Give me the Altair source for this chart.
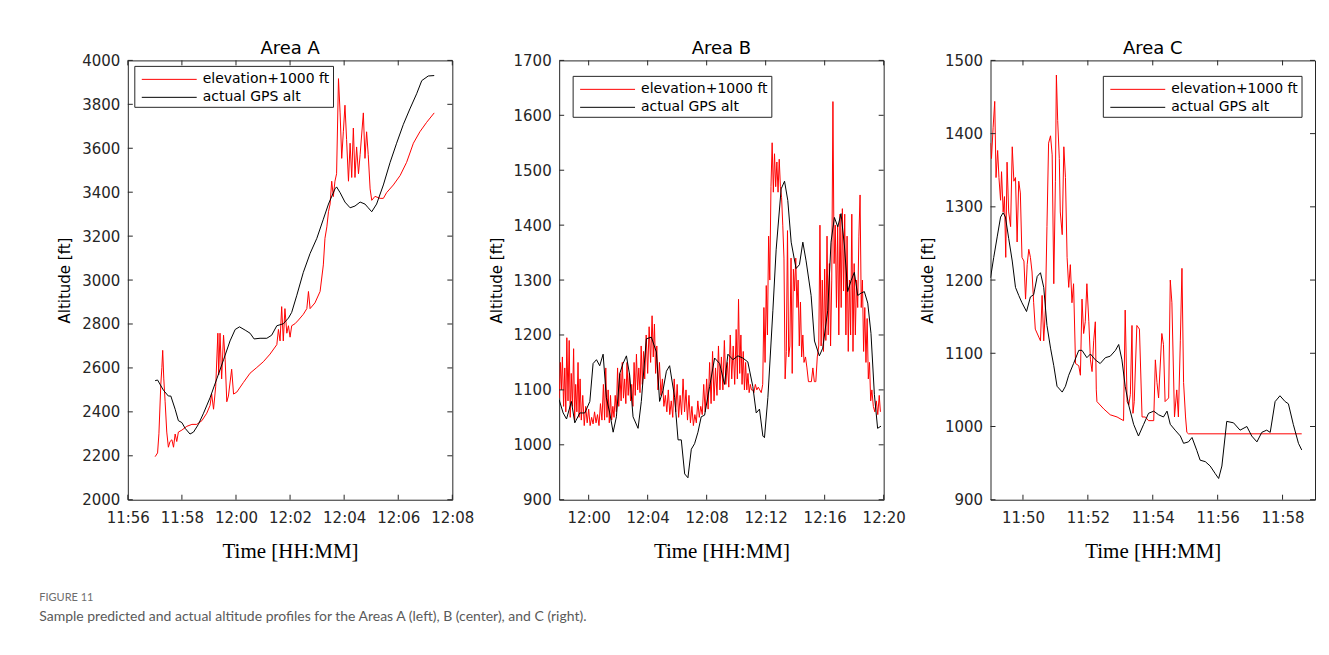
import altair as alt
import pandas as pd

FRAME = "#262626"
RED = "#ff0000"
BLACK = "#000000"
LABEL_RED = "elevation+1000 ft"
LABEL_BLACK = "actual GPS alt"

TITLES = ["Area A", "Area B", "Area C"]
# minute-of-day of each panel's time origin
START = [716, 718, 709]
X_DOMAINS = [[716, 728], [718, 740], [709, 719]]
X_TICKS = [[716, 718, 720, 722, 724, 726, 728],
           [720, 724, 728, 732, 736, 740],
           [710, 712, 714, 716, 718]]
Y_DOMAINS = [[2000, 4000], [900, 1700], [900, 1500]]
Y_TICKS = [[2000, 2200, 2400, 2600, 2800, 3000, 3200, 3400, 3600, 3800, 4000],
           [900, 1000, 1100, 1200, 1300, 1400, 1500, 1600, 1700],
           [900, 1000, 1100, 1200, 1300, 1400, 1500]]

# (minutes after panel origin, altitude ft)
A_RED = [(1.01, 2196), (1.10, 2213), (1.15, 2300), (1.22, 2524), (1.26, 2602), (1.29, 2680),
         (1.33, 2550), (1.38, 2446), (1.44, 2308), (1.50, 2239), (1.56, 2265), (1.63, 2273),
         (1.69, 2239), (1.75, 2299), (1.81, 2265), (1.87, 2308), (2.00, 2317), (2.18, 2334),
         (2.37, 2343), (2.55, 2343), (2.74, 2360), (2.92, 2394), (3.04, 2429), (3.10, 2481),
         (3.17, 2412), (3.25, 2516), (3.33, 2758), (3.36, 2568), (3.41, 2758), (3.47, 2550),
         (3.54, 2749), (3.60, 2637), (3.66, 2446), (3.72, 2472), (3.84, 2594), (3.91, 2481),
         (4.03, 2490), (4.27, 2533), (4.52, 2576), (4.77, 2602), (5.01, 2628), (5.26, 2663),
         (5.51, 2706), (5.57, 2775), (5.63, 2723), (5.69, 2879), (5.75, 2723), (5.81, 2870),
         (5.88, 2758), (5.94, 2792), (6.00, 2740), (6.06, 2792), (6.18, 2801), (6.31, 2818),
         (6.49, 2844), (6.62, 2870), (6.68, 2948), (6.74, 2870), (6.92, 2896), (7.11, 2948),
         (7.23, 3069), (7.29, 3190), (7.36, 3242), (7.42, 3311), (7.48, 3346), (7.54, 3450),
         (7.60, 3380), (7.66, 3450), (7.72, 3484), (7.79, 3917), (7.85, 3761), (7.91, 3554),
         (7.97, 3675), (8.03, 3796), (8.09, 3640), (8.16, 3450), (8.22, 3623), (8.28, 3467),
         (8.34, 3692), (8.40, 3467), (8.46, 3606), (8.53, 3484), (8.59, 3571), (8.71, 3761),
         (8.77, 3554), (8.83, 3675), (8.89, 3571), (8.96, 3415), (9.02, 3363), (9.14, 3381),
         (9.33, 3372), (9.45, 3372), (9.57, 3398), (9.82, 3433), (10.07, 3476), (10.31, 3536),
         (10.56, 3623), (10.80, 3675), (11.05, 3718), (11.33, 3761)]
A_BLACK = [(1.01, 2542), (1.10, 2545), (1.32, 2498), (1.50, 2472), (1.59, 2472), (1.75, 2412),
           (1.87, 2360), (2.00, 2351), (2.12, 2325), (2.30, 2299), (2.43, 2308), (2.61, 2343),
           (2.80, 2394), (3.04, 2464), (3.29, 2550), (3.54, 2637), (3.78, 2723), (3.97, 2775),
           (4.13, 2787), (4.34, 2772), (4.52, 2758), (4.67, 2732), (4.89, 2735), (5.14, 2735),
           (5.32, 2749), (5.51, 2792), (5.75, 2801), (5.94, 2827), (6.06, 2853), (6.25, 2931),
           (6.49, 3035), (6.74, 3121), (6.99, 3190), (7.23, 3277), (7.42, 3346), (7.66, 3415),
           (7.72, 3424), (7.85, 3398), (8.03, 3355), (8.22, 3329), (8.40, 3337), (8.59, 3355),
           (8.77, 3346), (8.89, 3329), (9.02, 3311), (9.20, 3346), (9.45, 3433), (9.70, 3536),
           (9.94, 3623), (10.19, 3709), (10.43, 3779), (10.68, 3848), (10.87, 3908),
           (11.11, 3929), (11.33, 3931)]

B_RED = [(0.00, 1085), (0.08, 1150), (0.15, 1100), (0.22, 1160), (0.30, 1070), (0.38, 1140),
         (0.45, 1060), (0.52, 1195), (0.60, 1080), (0.68, 1190), (0.75, 1050), (0.82, 1130),
         (0.90, 1070), (0.98, 1175), (1.05, 1045), (1.12, 1110), (1.20, 1060), (1.28, 1150),
         (1.35, 1050), (1.42, 1120), (1.50, 1045), (1.60, 1090), (1.70, 1035), (1.80, 1070),
         (1.90, 1040), (2.00, 1065), (2.10, 1035), (2.20, 1050), (2.30, 1038), (2.40, 1060),
         (2.50, 1040), (2.60, 1055), (2.70, 1035), (2.80, 1075), (2.90, 1045), (3.00, 1110),
         (3.08, 1045), (3.16, 1140), (3.24, 1050), (3.32, 1100), (3.40, 1040), (3.48, 1090),
         (3.56, 1045), (3.64, 1070), (3.72, 1050), (3.80, 1090), (3.88, 1060), (3.96, 1140),
         (4.04, 1070), (4.12, 1130), (4.20, 1080), (4.28, 1150), (4.36, 1085), (4.44, 1120),
         (4.52, 1075), (4.60, 1150), (4.68, 1090), (4.76, 1130), (4.84, 1080), (4.92, 1110),
         (5.00, 1070), (5.08, 1150), (5.16, 1090), (5.24, 1165), (5.32, 1100), (5.40, 1140),
         (5.48, 1095), (5.56, 1180), (5.64, 1110), (5.72, 1170), (5.80, 1120), (5.90, 1200),
         (6.00, 1130), (6.10, 1215), (6.20, 1150), (6.30, 1235), (6.38, 1160), (6.46, 1220),
         (6.54, 1130), (6.62, 1180), (6.70, 1100), (6.80, 1150), (6.90, 1090), (7.00, 1120),
         (7.10, 1070), (7.20, 1090), (7.30, 1060), (7.40, 1100), (7.50, 1055), (7.60, 1080),
         (7.70, 1050), (7.80, 1120), (7.90, 1060), (8.00, 1110), (8.10, 1050), (8.20, 1090),
         (8.30, 1055), (8.40, 1120), (8.50, 1060), (8.60, 1100), (8.70, 1045), (8.80, 1090),
         (8.90, 1040), (9.00, 1070), (9.10, 1035), (9.20, 1055), (9.30, 1040), (9.40, 1080),
         (9.50, 1050), (9.60, 1070), (9.70, 1055), (9.80, 1110), (9.90, 1060), (10.00, 1120),
         (10.10, 1065), (10.20, 1150), (10.30, 1075), (10.40, 1170), (10.50, 1080),
         (10.60, 1140), (10.70, 1090), (10.80, 1180), (10.90, 1100), (11.00, 1160),
         (11.10, 1100), (11.20, 1190), (11.30, 1110), (11.40, 1150), (11.50, 1105),
         (11.60, 1200), (11.70, 1120), (11.80, 1180), (11.90, 1110), (12.00, 1210),
         (12.08, 1120), (12.16, 1265), (12.24, 1130), (12.32, 1200), (12.40, 1110),
         (12.48, 1170), (12.56, 1100), (12.64, 1150), (12.72, 1100), (12.80, 1130),
         (12.88, 1095), (12.96, 1110), (13.04, 1100), (13.12, 1100), (13.20, 1095),
         (13.30, 1110), (13.40, 1100), (13.50, 1105), (13.60, 1100), (13.70, 1095),
         (13.80, 1110), (13.88, 1250), (13.96, 1150), (14.04, 1290), (14.12, 1200),
         (14.20, 1380), (14.28, 1300), (14.36, 1470), (14.44, 1550), (14.52, 1460),
         (14.60, 1530), (14.68, 1470), (14.76, 1515), (14.84, 1460), (14.92, 1520),
         (15.00, 1470), (15.08, 1450), (15.16, 1400), (15.24, 1340), (15.32, 1120),
         (15.40, 1170), (15.48, 1390), (15.56, 1160), (15.64, 1180), (15.72, 1340),
         (15.80, 1130), (15.88, 1320), (15.96, 1280), (16.04, 1340), (16.12, 1250),
         (16.20, 1300), (16.28, 1180), (16.36, 1260), (16.44, 1160), (16.52, 1200),
         (16.60, 1150), (16.70, 1160), (16.80, 1140), (16.90, 1115), (17.00, 1115),
         (17.10, 1115), (17.20, 1140), (17.30, 1115), (17.40, 1115), (17.50, 1160),
         (17.60, 1180), (17.68, 1400), (17.76, 1180), (17.84, 1300), (17.92, 1170),
         (18.00, 1320), (18.08, 1190), (18.16, 1380), (18.24, 1200), (18.32, 1330),
         (18.40, 1180), (18.48, 1300), (18.56, 1625), (18.64, 1330), (18.72, 1400),
         (18.80, 1250), (18.88, 1400), (18.96, 1200), (19.04, 1420), (19.12, 1250),
         (19.20, 1430), (19.28, 1280), (19.36, 1420), (19.44, 1200), (19.52, 1380),
         (19.60, 1170), (19.68, 1300), (19.76, 1200), (19.84, 1420), (19.92, 1170),
         (20.00, 1330), (20.08, 1200), (20.16, 1300), (20.24, 1250), (20.32, 1380),
         (20.40, 1455), (20.48, 1250), (20.56, 1300), (20.64, 1170), (20.72, 1250),
         (20.80, 1150), (20.88, 1230), (20.96, 1120), (21.04, 1150), (21.12, 1080),
         (21.20, 1100), (21.30, 1070), (21.40, 1060), (21.50, 1080), (21.60, 1055),
         (21.70, 1090), (21.78, 1060)]
B_BLACK = [(0.00, 1082), (0.27, 1058), (0.50, 1047), (0.83, 1079), (1.06, 1040), (1.40, 1058),
           (1.74, 1058), (2.08, 1079), (2.30, 1148), (2.53, 1155), (2.75, 1144), (2.98, 1165),
           (3.20, 1086), (3.43, 1058), (3.66, 1023), (3.88, 1051), (4.11, 1130), (4.33, 1148),
           (4.56, 1162), (4.78, 1127), (5.01, 1051), (5.35, 1030), (5.57, 1079), (5.91, 1193),
           (6.25, 1196), (6.59, 1169), (6.81, 1079), (7.04, 1099), (7.27, 1134), (7.49, 1144),
           (7.83, 1086), (8.06, 1009), (8.28, 1009), (8.51, 947), (8.73, 940), (8.96, 992),
           (9.18, 1002), (9.41, 1023), (9.63, 1051), (9.86, 1054), (10.20, 1106),
           (10.54, 1158), (10.88, 1148), (11.21, 1110), (11.44, 1165), (11.78, 1155),
           (12.12, 1162), (12.45, 1158), (12.79, 1151), (13.13, 1106), (13.36, 1058),
           (13.58, 1065), (13.81, 1016), (13.92, 1013), (14.15, 1086), (14.49, 1245),
           (14.71, 1355), (15.05, 1466), (15.28, 1480), (15.50, 1445), (15.73, 1369),
           (16.06, 1321), (16.29, 1328), (16.52, 1369), (16.74, 1335), (17.08, 1272),
           (17.31, 1189), (17.64, 1162), (17.87, 1176), (18.21, 1245), (18.43, 1369),
           (18.66, 1414), (18.89, 1397), (19.11, 1421), (19.34, 1362), (19.56, 1279),
           (19.79, 1299), (20.01, 1314), (20.24, 1272), (20.46, 1276), (20.69, 1279),
           (20.92, 1258), (21.14, 1203), (21.37, 1092), (21.59, 1030), (21.82, 1034)]

C_RED = [(0.00, 1387), (0.03, 1366), (0.08, 1408), (0.13, 1444), (0.17, 1340), (0.22, 1377),
         (0.26, 1340), (0.31, 1309), (0.34, 1348), (0.39, 1293), (0.43, 1314), (0.47, 1231),
         (0.51, 1361), (0.56, 1293), (0.62, 1273), (0.67, 1382), (0.72, 1335), (0.77, 1340),
         (0.82, 1252), (0.87, 1335), (0.92, 1319), (0.97, 1231), (1.03, 1226), (1.08, 1174),
         (1.13, 1221), (1.18, 1242), (1.23, 1231), (1.28, 1211), (1.33, 1169), (1.38, 1133),
         (1.49, 1122), (1.54, 1117), (1.59, 1179), (1.64, 1117), (1.69, 1159), (1.74, 1273),
         (1.79, 1387), (1.85, 1397), (1.90, 1371), (1.95, 1195), (2.00, 1335), (2.03, 1480),
         (2.07, 1418), (2.12, 1366), (2.15, 1293), (2.21, 1262), (2.26, 1382), (2.31, 1340),
         (2.36, 1231), (2.41, 1190), (2.46, 1221), (2.51, 1169), (2.56, 1195), (2.62, 1086),
         (2.72, 1083), (2.77, 1070), (2.82, 1174), (2.87, 1127), (2.92, 1143), (2.97, 1195),
         (3.03, 1143), (3.08, 1091), (3.13, 1075), (3.18, 1117), (3.23, 1143), (3.26, 1050),
         (3.28, 1034), (3.49, 1024), (3.69, 1016), (3.90, 1013), (4.10, 1008), (4.15, 1159),
         (4.21, 1034), (4.26, 1029), (4.31, 1044), (4.36, 1138), (4.39, 1018), (4.43, 1034),
         (4.51, 1138), (4.59, 1133), (4.67, 1013), (4.77, 1013), (4.87, 1008), (5.03, 1008),
         (5.08, 1091), (5.13, 1060), (5.18, 1039), (5.28, 1127), (5.33, 1112), (5.38, 1034),
         (5.49, 1039), (5.54, 1200), (5.59, 1169), (5.67, 1013), (5.74, 1050), (5.79, 1013),
         (5.85, 1117), (5.90, 1216), (5.95, 1060), (6.01, 1013), (6.05, 992), (6.10, 990),
         (9.59, 990)]
C_BLACK = [(0.00, 1203), (0.10, 1231), (0.21, 1260), (0.31, 1286), (0.39, 1292), (0.46, 1286),
           (0.56, 1257), (0.67, 1226), (0.77, 1190), (0.87, 1179), (0.97, 1169), (1.11, 1157),
           (1.23, 1177), (1.33, 1180), (1.44, 1205), (1.54, 1210), (1.64, 1190), (1.74, 1138),
           (1.85, 1107), (1.95, 1083), (2.05, 1055), (2.21, 1047), (2.31, 1055), (2.41, 1070),
           (2.56, 1086), (2.72, 1104), (2.82, 1104), (2.97, 1094), (3.08, 1099), (3.23, 1091),
           (3.38, 1086), (3.54, 1094), (3.69, 1096), (3.85, 1104), (3.95, 1112), (4.05, 1091),
           (4.15, 1055), (4.26, 1029), (4.41, 1003), (4.56, 987), (4.72, 1003), (4.87, 1018),
           (5.03, 1021), (5.18, 1016), (5.33, 1013), (5.44, 1021), (5.54, 1003), (5.69, 995),
           (5.85, 987), (5.95, 977), (6.10, 979), (6.21, 985), (6.36, 967), (6.46, 954),
           (6.62, 952), (6.77, 946), (6.92, 936), (7.03, 929), (7.13, 946), (7.28, 1007),
           (7.49, 1005), (7.69, 995), (7.90, 1000), (8.05, 987), (8.21, 979), (8.36, 992),
           (8.51, 995), (8.62, 992), (8.77, 1034), (8.92, 1042), (9.08, 1034), (9.18, 1031),
           (9.33, 1003), (9.49, 977), (9.59, 968)]

REDS = [A_RED, B_RED, C_RED]
BLACKS = [A_BLACK, B_BLACK, C_BLACK]

W, H = 325, 440
TL = 5  # inward tick length
LEG_X = [7, 14, 113]
LEG_Y = [6, 16, 16]
LEG_W, LEG_H = 199, 41
ROW1, ROW2 = 13, 31

TIME_EXPR = "floor(datum.value / 60) + ':' + (datum.value % 60 < 10 ? '0' : '') + (datum.value % 60)"
SANS = "DejaVu Sans"


def panel(i):
    red = pd.DataFrame({"t": [START[i] + t for t, _ in REDS[i]], "v": [v for _, v in REDS[i]]})
    black = pd.DataFrame({"t": [START[i] + t for t, _ in BLACKS[i]], "v": [v for _, v in BLACKS[i]]})
    xt = pd.DataFrame({"t": X_TICKS[i]})
    yt = pd.DataFrame({"v": Y_TICKS[i]})
    one = pd.DataFrame({"k": [0]})

    x = alt.X("t:Q", scale=alt.Scale(domain=X_DOMAINS[i], nice=False, zero=False),
              axis=alt.Axis(values=X_TICKS[i], labelExpr=TIME_EXPR, title="Time [HH:MM]",
                            titleFont="Liberation Serif", titleFontSize=21, titleFontWeight="normal",
                            titleColor="black", titlePadding=15, labelPadding=11,
                            labelFlush=False, labelOverlap=False))
    y = alt.Y("v:Q", scale=alt.Scale(domain=Y_DOMAINS[i], nice=False, zero=False),
              axis=alt.Axis(values=Y_TICKS[i], format="d", title="Altitude [ft]", titleFont=SANS,
                            titleFontSize=15, titleFontWeight="normal", titleColor="black",
                            titlePadding=9, labelPadding=8, labelOverlap=False))

    red_line = alt.Chart(red).mark_line(color=RED, strokeWidth=1, clip=True).encode(x=x, y=y)
    black_line = alt.Chart(black).mark_line(color=BLACK, strokeWidth=1, clip=True).encode(x="t:Q", y="v:Q")

    tick_b = alt.Chart(xt).mark_rule(color=FRAME, strokeWidth=1).encode(
        x="t:Q", y=alt.value(H), y2=alt.value(H - TL))
    tick_t = alt.Chart(xt).mark_rule(color=FRAME, strokeWidth=1).encode(
        x="t:Q", y=alt.value(0), y2=alt.value(TL))
    tick_l = alt.Chart(yt).mark_rule(color=FRAME, strokeWidth=1).encode(
        y="v:Q", x=alt.value(0), x2=alt.value(TL))
    tick_r = alt.Chart(yt).mark_rule(color=FRAME, strokeWidth=1).encode(
        y="v:Q", x=alt.value(W), x2=alt.value(W - TL))

    lx, ly = LEG_X[i], LEG_Y[i]
    box = alt.Chart(one).mark_rect(fill="white", stroke=FRAME, strokeWidth=1).encode(
        x=alt.value(lx), x2=alt.value(lx + LEG_W), y=alt.value(ly), y2=alt.value(ly + LEG_H))
    sw_r = alt.Chart(one).mark_rule(color=RED, strokeWidth=1).encode(
        x=alt.value(lx + 7), x2=alt.value(lx + 62), y=alt.value(ly + ROW1))
    sw_k = alt.Chart(one).mark_rule(color=BLACK, strokeWidth=1).encode(
        x=alt.value(lx + 7), x2=alt.value(lx + 62), y=alt.value(ly + ROW2))
    tx_r = alt.Chart(one).mark_text(align="left", baseline="middle", font=SANS, fontSize=14,
                                    color="black").encode(
        x=alt.value(lx + 68), y=alt.value(ly + ROW1), text=alt.value(LABEL_RED))
    tx_k = alt.Chart(one).mark_text(align="left", baseline="middle", font=SANS, fontSize=14,
                                    color="black").encode(
        x=alt.value(lx + 68), y=alt.value(ly + ROW2), text=alt.value(LABEL_BLACK))

    return alt.layer(red_line, black_line, tick_b, tick_t, tick_l, tick_r,
                     box, sw_r, sw_k, tx_r, tx_k).properties(
        width=W, height=H, title=TITLES[i])


chart = alt.hconcat(panel(0), panel(1), panel(2), spacing=13).properties(
    padding={"left": 31, "top": 31, "right": 5, "bottom": 5},
    title=alt.TitleParams(
        text="FIGURE 11",
        subtitle="Sample predicted and actual altitude profiles for the Areas A (left), B (center), and C (right).",
        orient="bottom", anchor="start", font="Lato", fontSize=11,
        fontWeight="normal", color="#6d6d6d", subtitleFont="Lato",
        subtitleFontSize=14, subtitleColor="#5a5a5a", subtitlePadding=7, offset=30, dx=-18),
).configure_view(stroke=FRAME, strokeWidth=1).configure_axis(
    ticks=False, tickSize=0, domain=False, grid=False, labelFont=SANS, labelFontSize=15,
    labelColor=FRAME,
).configure_title(font=SANS, fontSize=18, fontWeight="normal", color="black", offset=-5)

chart.save("out.html", embed_options={"renderer": "svg", "actions": False})
